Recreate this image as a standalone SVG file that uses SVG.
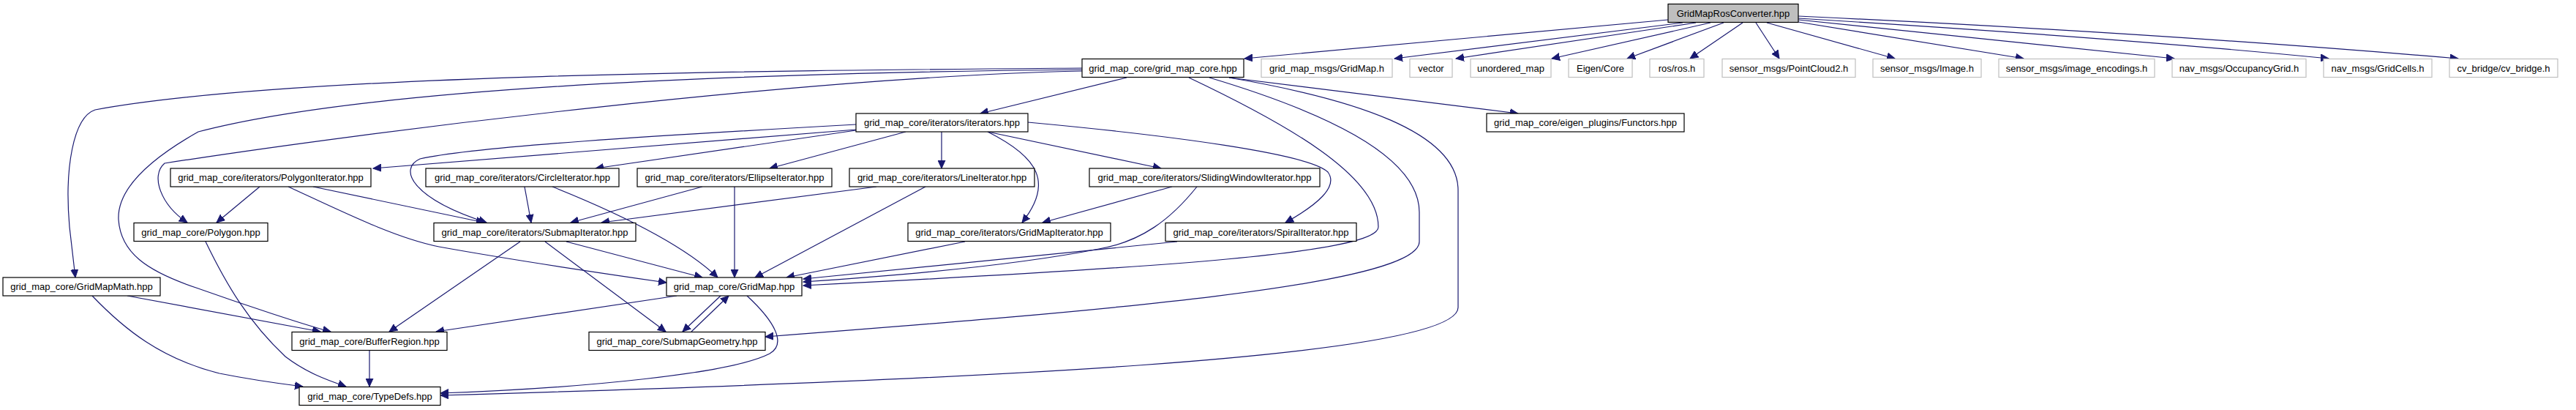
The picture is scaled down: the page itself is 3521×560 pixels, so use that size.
<svg xmlns="http://www.w3.org/2000/svg" width="3521" height="560" viewBox="0 0 3521 560">
<style>
text{font-family:"Liberation Sans",Helvetica,Arial,sans-serif;font-size:13px;fill:#000;text-anchor:middle}
.n rect{fill:#fff;stroke:#000;stroke-width:1.2}
.g rect{fill:#fff;stroke:#bfbfbf;stroke-width:1.2}
.r rect{fill:#bfbfbf;stroke:#000;stroke-width:1.2}
#edges path{fill:none;stroke:#191970;stroke-width:1.2;marker-end:url(#a)}
</style>
<defs>
<marker id="a" markerWidth="12" markerHeight="11" refX="11" refY="5.5" orient="auto" markerUnits="userSpaceOnUse">
<path d="M0,0.5 L11,5.5 L0,10.5 z" fill="#191970" stroke="#191970" stroke-width="1"/>
</marker>
</defs>
<rect width="3521" height="560" fill="#fff"/>
<g id="edges">
<path d="M2280,27 L1701,80"/>
<path d="M2300,31 L1906,80"/>
<path d="M2318,31 L1990,80"/>
<path d="M2338,31 L2121,80"/>
<path d="M2356,31 L2224,80"/>
<path d="M2382,31 L2310,80"/>
<path d="M2400,31 L2432,80"/>
<path d="M2415,31 L2590,80"/>
<path d="M2458,30 L2766,80"/>
<path d="M2458,27 L2972,80"/>
<path d="M2458,25 Q2900,52 3183,80"/>
<path d="M2458,22 Q2950,45 3360,80"/>
<path d="M1540,106 L1340,155"/>
<path d="M1680,106 L2075,155"/>
<path d="M1625,106 C1760,170 1884,240 1884,310 C1884,345 1600,365 1098,390"/>
<path d="M1653,106 C1800,150 1940,210 1940,290 L1940,330 C1940,390 1500,425 1046,460"/>
<path d="M1680,106 C1850,135 1993,180 1993,260 L1993,420 C1993,490 1300,520 602,540"/>
<path d="M1479,93 C1100,96 400,100 130,150 C100,160 88,230 95,310 L103,379"/>
<path d="M1479,95 C1000,100 500,120 271,180 C200,220 160,260 162,300 C165,345 200,370 268,393 C330,415 420,445 452,453"/>
<path d="M1479,97 C1100,105 500,180 225,223 C205,240 220,280 256,304"/>
<path d="M1170,170 C900,185 650,200 574,217 C545,230 560,270 665,304"/>
<path d="M1170,177 L510,230"/>
<path d="M1170,178 L814,230"/>
<path d="M1238,180 L1052,230"/>
<path d="M1287,180 L1287,230"/>
<path d="M1350,180 L1587,230"/>
<path d="M1350,180 C1420,215 1440,250 1397,304"/>
<path d="M1405,167 C1600,185 1790,210 1815,235 C1830,255 1800,280 1757,304"/>
<path d="M355,255 L296,304"/>
<path d="M428,255 L662,304"/>
<path d="M394,255 C470,290 540,325 600,337 C700,355 800,370 911,386"/>
<path d="M717,255 L726,304"/>
<path d="M755,255 C830,285 930,330 981,379"/>
<path d="M960,255 L780,304"/>
<path d="M1004,255 L1004,379"/>
<path d="M1198,255 L822,304"/>
<path d="M1265,255 L1032,379"/>
<path d="M1602,255 L1425,304"/>
<path d="M1636,255 C1600,300 1560,330 1502,340 C1400,360 1250,375 1098,385"/>
<path d="M1319,330 L1075,379"/>
<path d="M1609,330 L1098,381"/>
<path d="M774,330 L960,379"/>
<path d="M745,330 L910,453"/>
<path d="M711,330 L532,453"/>
<path d="M281,330 C310,390 340,440 390,487 C420,510 450,520 473,528"/>
<path d="M174,404 L438,453"/>
<path d="M126,404 C170,450 220,490 300,510 C350,520 390,525 414,528"/>
<path d="M505,479 L505,528"/>
<path d="M985,404 L933,453"/>
<path d="M945,453 L996,404"/>
<path d="M925,404 L596,453"/>
<path d="M1021,404 C1060,440 1075,470 1052,483 C1000,510 800,530 602,537"/>
</g>
<g id="root" class="r"><rect x="2280" y="5.5" width="178" height="25"/><text x="2369" y="22.5">GridMapRosConverter.hpp</text></g>
<g id="gmc" class="n"><rect x="1479" y="80.5" width="221" height="25"/><text x="1589.5" y="97.5">grid_map_core/grid_map_core.hpp</text></g>
<g id="gm_msgs" class="g"><rect x="1724" y="80.5" width="179" height="25"/><text x="1813.5" y="97.5">grid_map_msgs/GridMap.h</text></g>
<g id="vector" class="g"><rect x="1927" y="80.5" width="58" height="25"/><text x="1956" y="97.5">vector</text></g>
<g id="unordered_map" class="g"><rect x="2010" y="80.5" width="110" height="25"/><text x="2065" y="97.5">unordered_map</text></g>
<g id="eigen" class="g"><rect x="2144" y="80.5" width="87" height="25"/><text x="2187.5" y="97.5">Eigen/Core</text></g>
<g id="ros" class="g"><rect x="2255" y="80.5" width="74" height="25"/><text x="2292" y="97.5">ros/ros.h</text></g>
<g id="pc2" class="g"><rect x="2354" y="80.5" width="182" height="25"/><text x="2445" y="97.5">sensor_msgs/PointCloud2.h</text></g>
<g id="image" class="g"><rect x="2560" y="80.5" width="148" height="25"/><text x="2634" y="97.5">sensor_msgs/Image.h</text></g>
<g id="enc" class="g"><rect x="2732" y="80.5" width="213" height="25"/><text x="2838.5" y="97.5">sensor_msgs/image_encodings.h</text></g>
<g id="occ" class="g"><rect x="2969" y="80.5" width="183" height="25"/><text x="3060.5" y="97.5">nav_msgs/OccupancyGrid.h</text></g>
<g id="cells" class="g"><rect x="3176" y="80.5" width="148" height="25"/><text x="3250" y="97.5">nav_msgs/GridCells.h</text></g>
<g id="cv" class="g"><rect x="3348" y="80.5" width="148" height="25"/><text x="3422" y="97.5">cv_bridge/cv_bridge.h</text></g>
<g id="iters" class="n"><rect x="1170" y="155" width="235" height="25"/><text x="1287.5" y="172">grid_map_core/iterators/iterators.hpp</text></g>
<g id="functors" class="n"><rect x="2032" y="155" width="270" height="25"/><text x="2167" y="172">grid_map_core/eigen_plugins/Functors.hpp</text></g>
<g id="polyit" class="n"><rect x="233" y="230" width="274" height="25"/><text x="370" y="247">grid_map_core/iterators/PolygonIterator.hpp</text></g>
<g id="circle" class="n"><rect x="582" y="230" width="264" height="25"/><text x="714" y="247">grid_map_core/iterators/CircleIterator.hpp</text></g>
<g id="ellipse" class="n"><rect x="871" y="230" width="266" height="25"/><text x="1004" y="247">grid_map_core/iterators/EllipseIterator.hpp</text></g>
<g id="line" class="n"><rect x="1161" y="230" width="253" height="25"/><text x="1287.5" y="247">grid_map_core/iterators/LineIterator.hpp</text></g>
<g id="sliding" class="n"><rect x="1489" y="230" width="315" height="25"/><text x="1646.5" y="247">grid_map_core/iterators/SlidingWindowIterator.hpp</text></g>
<g id="polygon" class="n"><rect x="183" y="304.5" width="183" height="25"/><text x="274.5" y="321.5">grid_map_core/Polygon.hpp</text></g>
<g id="submapit" class="n"><rect x="593" y="304.5" width="276" height="25"/><text x="731" y="321.5">grid_map_core/iterators/SubmapIterator.hpp</text></g>
<g id="gridmapit" class="n"><rect x="1241" y="304.5" width="277" height="25"/><text x="1379.5" y="321.5">grid_map_core/iterators/GridMapIterator.hpp</text></g>
<g id="spiral" class="n"><rect x="1593" y="304.5" width="261" height="25"/><text x="1723.5" y="321.5">grid_map_core/iterators/SpiralIterator.hpp</text></g>
<g id="math" class="n"><rect x="4" y="379" width="215" height="25"/><text x="111.5" y="396">grid_map_core/GridMapMath.hpp</text></g>
<g id="gridmap" class="n"><rect x="911" y="379" width="185" height="25"/><text x="1003.5" y="396">grid_map_core/GridMap.hpp</text></g>
<g id="buffer" class="n"><rect x="399" y="453.5" width="212" height="25"/><text x="505" y="470.5">grid_map_core/BufferRegion.hpp</text></g>
<g id="submapgeo" class="n"><rect x="805" y="453.5" width="241" height="25"/><text x="925.5" y="470.5">grid_map_core/SubmapGeometry.hpp</text></g>
<g id="typedefs" class="n"><rect x="409" y="528.5" width="193" height="25"/><text x="505.5" y="545.5">grid_map_core/TypeDefs.hpp</text></g>
</svg>
